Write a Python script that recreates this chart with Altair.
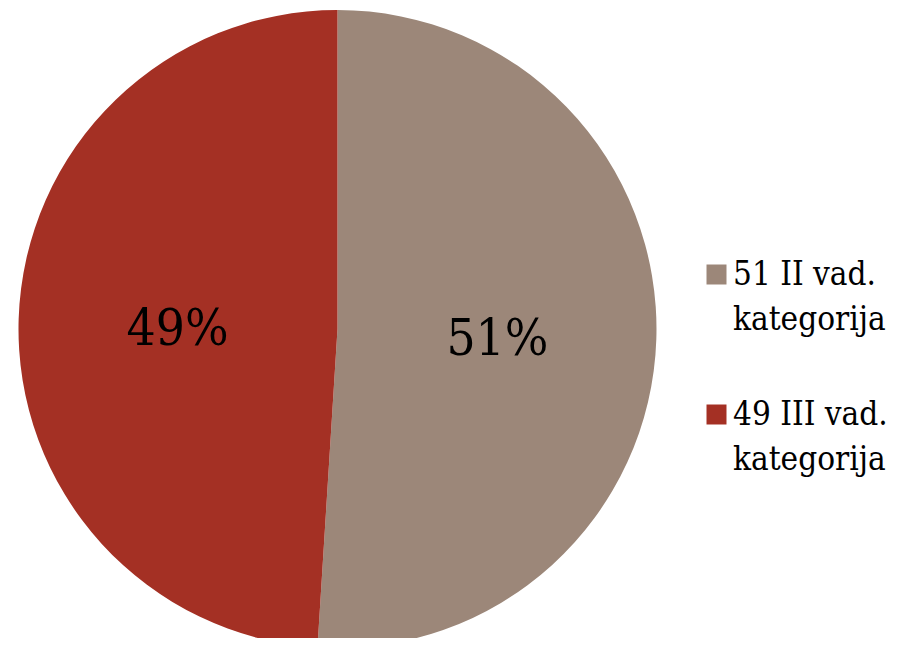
import altair as alt
import pandas as pd

categories = ["51 II vad. kategorija", "49 III vad. kategorija"]
values = [51, 49]
labels = ["51%", "49%"]
colors = ["#9C8779", "#A43024"]

df = pd.DataFrame({"category": categories, "value": values, "label": labels,
                   "order": [0, 1]})

FONT = "DejaVu Serif Condensed"

base = alt.Chart(df).encode(
    theta=alt.Theta("value:Q", stack=True),
    order=alt.Order("order:Q"),
)

pie = base.mark_arc(outerRadius=319, x=329.5, y=321).encode(
    color=alt.Color(
        "category:N",
        sort=categories,
        scale=alt.Scale(domain=categories, range=colors),
        legend=alt.Legend(
            title=None,
            orient="none",
            legendX=692,
            legendY=250,
            symbolType="square",
            symbolSize=400,
            symbolStrokeWidth=0,
            labelFont=FONT,
            labelFontSize=33,
            labelColor="#000000",
            labelOffset=0,
            labelLimit=400,
            labelBaseline="middle",
            rowPadding=61,
            labelExpr="split(replace(datum.label, '. ', '.|'), '|')",
        ),
    )
)

text = base.mark_text(radius=160, x=329.5, y=321, dy=6, font=FONT, fontSize=51,
                      color="#000000").encode(text="label:N")

chart = (pie + text).properties(
    width=883, height=630, padding=0,
    autosize=alt.AutoSizeParams(type="none"),
).configure_view(stroke=None).configure(
    style={"guide-label": {"lineHeight": 45}}
)

chart.save("out.html", embed_options={"renderer": "svg", "actions": False})
